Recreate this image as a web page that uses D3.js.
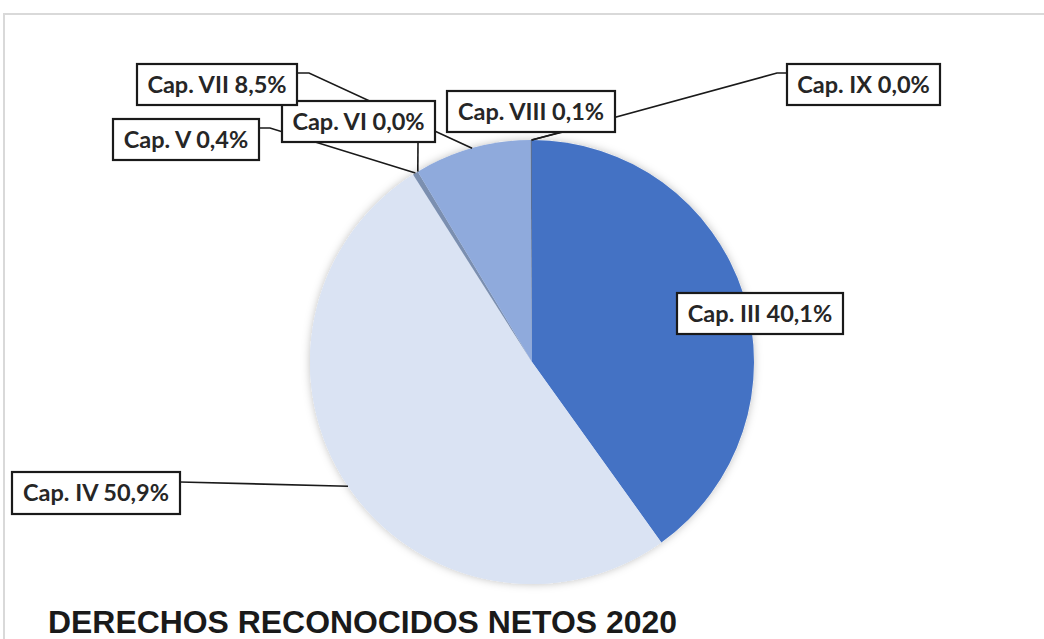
<!DOCTYPE html>
<html>
<head>
<meta charset="utf-8">
<script src="https://cdn.jsdelivr.net/npm/d3@7"></script>
<style>
  html, body { margin: 0; padding: 0; background: #fff; }
  #chart { width: 1044px; height: 639px; }
</style>
</head>
<body>
<div id="chart"></div>
<script>
// Slice data (clockwise from 12 o'clock)
const categories = ['Cap. III', 'Cap. IV', 'Cap. V', 'Cap. VI', 'Cap. VII', 'Cap. VIII', 'Cap. IX'];
const shares = [40.1, 50.9, 0.4, 0.0, 8.5, 0.1, 0.0];
const labelTexts = ['Cap. III 40,1%', 'Cap. IV 50,9%', 'Cap. V 0,4%', 'Cap. VI 0,0%', 'Cap. VII 8,5%', 'Cap. VIII 0,1%', 'Cap. IX 0,0%'];
const colors = ['#4472c4', '#dae3f3', '#7b8fb0', '#b4c7e7', '#8faadc', '#5a6f94', '#2f5597'];
const title = 'DERECHOS RECONOCIDOS NETOS 2020';

// Label box layout: [x, y, w, h], elbow points for leaders (null = no leader)
const boxes = [
    [677, 293, 166, 41],
    [12, 472, 168, 42],
    [113, 119, 146, 41],
    [282, 101, 153, 41],
    [137, 64, 160, 41],
    [447, 91, 168, 41],
    [787, 64, 153, 41]
];
const elbows = [
    null,
    [[180, 482]],
    [[259, 128], [270, 128]],
    [[418, 142]],
    [[297, 73], [309, 73]],
    [[563, 132]],
    [[787, 73], [777, 73]]
];
const drawOrder = [6, 5, 0, 1, 2, 3, 4];

const width = 1044, height = 639;
const cx = 532, cy = 362, radius = 222;

const svg = d3.select('#chart').append('svg')
    .attr('width', width)
    .attr('height', height);

// Outer frame (light gray, cut off by the page edges)
svg.append('rect')
    .attr('x', 4)
    .attr('y', 14)
    .attr('width', 1060)
    .attr('height', 700)
    .attr('fill', 'none')
    .attr('stroke', '#d9d9d9')
    .attr('stroke-width', 2);

const defs = svg.append('defs');
const f = defs.append('filter').attr('id', 'shadow')
    .attr('x', '-10%').attr('y', '-10%').attr('width', '120%').attr('height', '120%');
f.append('feDropShadow')
    .attr('dx', 0).attr('dy', 0)
    .attr('stdDeviation', 4)
    .attr('flood-color', '#000')
    .attr('flood-opacity', 0.25);

const pie = d3.pie().sort(null).value(d => d);
const arcs = pie(shares);
const arc = d3.arc().innerRadius(0).outerRadius(radius);

const g = svg.append('g').attr('transform', `translate(${cx},${cy})`);

g.append('circle')
    .attr('r', radius)
    .attr('fill', '#dae3f3')
    .attr('filter', 'url(#shadow)');

g.selectAll('path.slice')
    .data(arcs)
    .join('path')
    .attr('class', 'slice')
    .attr('d', arc)
    .attr('fill', (d, i) => colors[i]);

// Anchor on the pie edge at the middle angle of each slice
function anchor(d) {
    const a = (d.startAngle + d.endAngle) / 2;
    return [cx + radius * Math.sin(a), cy - radius * Math.cos(a)];
}

const line = d3.line();
const labels = svg.append('g');

drawOrder.forEach(i => {
    if (elbows[i]) {
        const pts = [anchor(arcs[i])].concat(elbows[i].slice().reverse());
        labels.append('path')
            .attr('d', line(pts))
            .attr('fill', 'none')
            .attr('stroke', '#1a1a1a')
            .attr('stroke-width', 1.6);
    }
});

drawOrder.forEach(i => {
    const [x, y, w, h] = boxes[i];
    const lg = labels.append('g');
    lg.append('rect')
        .attr('x', x).attr('y', y)
        .attr('width', w).attr('height', h)
        .attr('fill', '#fff')
        .attr('stroke', '#1a1a1a')
        .attr('stroke-width', 2.2);
    lg.append('text')
        .attr('x', x + w / 2)
        .attr('y', y + h / 2 + 8)
        .attr('text-anchor', 'middle')
        .attr('font-family', 'Lato, "Open Sans", sans-serif')
        .attr('font-weight', 'bold')
        .attr('font-size', 23.5)
        .attr('fill', '#262626')
        .text(labelTexts[i]);
});

// Title
svg.append('text')
    .attr('x', 48)
    .attr('y', 633)
    .attr('font-family', '"Liberation Sans", Arial, sans-serif')
    .attr('font-weight', 'bold')
    .attr('font-size', 32)
    .attr('fill', '#1a1a1a')
    .attr('textLength', 629)
    .attr('lengthAdjust', 'spacingAndGlyphs')
    .text(title);
</script>
</body>
</html>
